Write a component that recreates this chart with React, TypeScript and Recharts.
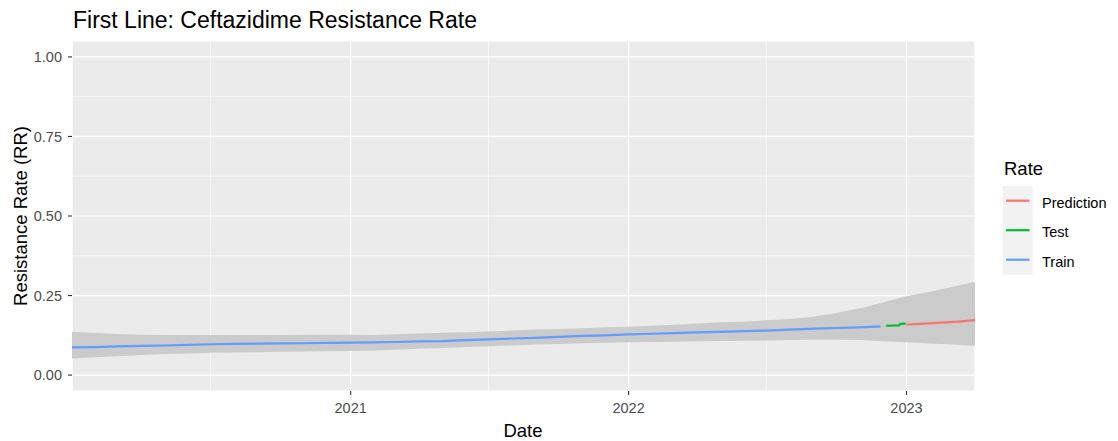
import { ComposedChart, Area, Line, XAxis, YAxis, CartesianGrid } from "recharts";

// monthly dates used for the prediction interval ribbon
const months = [
  "2020-01-01", "2020-02-01", "2020-03-01", "2020-04-01", "2020-05-01", "2020-06-01",
  "2020-07-01", "2020-08-01", "2020-09-01", "2020-10-01", "2020-11-01", "2020-12-01",
  "2021-01-01", "2021-02-01", "2021-03-01", "2021-04-01", "2021-05-01", "2021-06-01",
  "2021-07-01", "2021-08-01", "2021-09-01", "2021-10-01", "2021-11-01", "2021-12-01",
  "2022-01-01", "2022-02-01", "2022-03-01", "2022-04-01", "2022-05-01", "2022-06-01",
  "2022-07-01", "2022-08-01", "2022-09-01", "2022-10-01", "2022-11-01", "2022-12-01",
  "2023-01-01", "2023-02-01", "2023-03-01", "2023-04-01",
];
const ribbonLow = [
  0.052, 0.056, 0.059, 0.063, 0.066, 0.068, 0.07, 0.071, 0.072, 0.073, 0.074, 0.075,
  0.076, 0.077, 0.08, 0.083, 0.085, 0.088, 0.091, 0.093, 0.096, 0.098, 0.1, 0.102,
  0.103, 0.104, 0.105, 0.106, 0.107, 0.108, 0.109, 0.11, 0.111, 0.111, 0.11, 0.106,
  0.103, 0.099, 0.096, 0.092,
];
const ribbonHigh = [
  0.136, 0.132, 0.129, 0.127, 0.126, 0.126, 0.126, 0.126, 0.126, 0.126, 0.127, 0.127,
  0.127, 0.126, 0.128, 0.131, 0.133, 0.135, 0.137, 0.14, 0.143, 0.145, 0.147, 0.15,
  0.152, 0.155, 0.158, 0.162, 0.166, 0.168, 0.172, 0.176, 0.183, 0.195, 0.21, 0.228,
  0.248, 0.262, 0.277, 0.293,
];

const trainDates = [...months.slice(0, 35), "2022-11-28"];
const trainRate = [
  0.087, 0.088, 0.09, 0.092, 0.093, 0.095, 0.097, 0.098, 0.099, 0.0995, 0.1, 0.101,
  0.102, 0.103, 0.104, 0.106, 0.107, 0.11, 0.112, 0.115, 0.117, 0.12, 0.123, 0.125,
  0.128, 0.13, 0.132, 0.134, 0.136, 0.138, 0.14, 0.143, 0.146, 0.148, 0.15, 0.153,
];
const testDates = ["2022-12-05", "2022-12-22", "2022-12-24", "2022-12-31"];
const testRate = [0.155, 0.156, 0.161, 0.162];
const predDates = ["2023-01-01", "2023-01-20", "2023-02-15", "2023-03-10", "2023-04-01"];
const predRate = [0.159, 0.161, 0.165, 0.168, 0.173];

const xMajor = ["2021-01-01", "2022-01-01", "2023-01-01"];
const xMinor = ["2020-07-01", "2021-07-01", "2022-07-01"];
const yMajor = [0, 0.25, 0.5, 0.75, 1];
const yMinor = [0.125, 0.375, 0.625, 0.875];

const seriesNames = ["Prediction", "Test", "Train"];
const seriesColors = ["#F8766D", "#00BA38", "#619CFF"];

const ts = (s: string) => Date.parse(s);
const xDomain = [ts("2020-01-01"), ts("2023-04-01")];

const ribbon = months.map((m, i) => ({ t: ts(m), band: [ribbonLow[i], ribbonHigh[i]] }));
const train = trainDates.map((d, i) => ({ t: ts(d), rate: trainRate[i] }));
const test = testDates.map((d, i) => ({ t: ts(d), rate: testRate[i] }));
const pred = predDates.map((d, i) => ({ t: ts(d), rate: predRate[i] }));

const FONT = "'Liberation Sans', Arial, sans-serif";
const tickStyle = { fill: "#4D4D4D", fontSize: 14.5, fontFamily: FONT };
const tickLine = { stroke: "#333333", strokeWidth: 1.1 };

export default function App() {
  return (
    <div style={{ position: "absolute", left: 0, top: 0, width: 1118, height: 441, background: "#fff" }}>
      <ComposedChart width={1118} height={441} margin={{ top: 41, right: 143, bottom: 0, left: 0 }}>
        <XAxis xAxisId="minor" type="number" dataKey="t" domain={xDomain} ticks={xMinor.map(ts)} allowDataOverflow hide />
        <YAxis yAxisId="minor" type="number" domain={[-0.05, 1.05]} ticks={yMinor} allowDataOverflow hide />
        <XAxis
          type="number"
          dataKey="t"
          domain={xDomain}
          ticks={xMajor.map(ts)}
          allowDataOverflow
          tickFormatter={(v: number) => String(new Date(v).getUTCFullYear())}
          tick={tickStyle}
          tickLine={tickLine}
          tickSize={4}
          tickMargin={8}
          axisLine={false}
          height={50}
        />
        <YAxis
          type="number"
          domain={[-0.05, 1.05]}
          ticks={yMajor}
          allowDataOverflow
          tickFormatter={(v: number) => v.toFixed(2)}
          tick={tickStyle}
          tickLine={tickLine}
          tickSize={4}
          tickMargin={6}
          axisLine={false}
          width={72}
        />
        <CartesianGrid xAxisId="minor" yAxisId="minor" fill="#EBEBEB" stroke="#FFFFFF" strokeWidth={0.6} />
        <CartesianGrid stroke="#FFFFFF" strokeWidth={1.2} />
        <Area
          data={ribbon}
          dataKey="band"
          type="linear"
          stroke="none"
          fill="#CBCBCB"
          fillOpacity={1}
          isAnimationActive={false}
        />
        <Line data={train} dataKey="rate" type="linear" stroke={seriesColors[2]} strokeWidth={2.2} dot={false} isAnimationActive={false} />
        <Line data={test} dataKey="rate" type="linear" stroke={seriesColors[1]} strokeWidth={2.2} dot={false} isAnimationActive={false} />
        <Line data={pred} dataKey="rate" type="linear" stroke={seriesColors[0]} strokeWidth={2.2} dot={false} isAnimationActive={false} />
      </ComposedChart>
      <svg width={1118} height={441} style={{ position: "absolute", left: 0, top: 0, pointerEvents: "none" }} fontFamily={FONT}>
        <text x={73} y={28} fontSize={23} fill="#000">First Line: Ceftazidime Resistance Rate</text>
        <text x={523} y={436.5} fontSize={18.5} fill="#000" textAnchor="middle">Date</text>
        <text x={27} y={216} fontSize={18.5} fill="#000" textAnchor="middle" transform="rotate(-90 27 216)">
          Resistance Rate (RR)
        </text>
        <text x={1004} y={175} fontSize={18.5} fill="#000">Rate</text>
        <rect x={1002.7} y={186} width={30} height={88.5} fill="#F2F2F2" />
        {seriesNames.map((name, i) => {
          const cy = 200.7 + i * 29.5;
          return (
            <g key={name}>
              <line x1={1006} x2={1029.5} y1={cy} y2={cy} stroke={seriesColors[i]} strokeWidth={2.2} />
              <text x={1042} y={cy + 7} fontSize={14.5} fill="#000">{name}</text>
            </g>
          );
        })}
      </svg>
    </div>
  );
}
